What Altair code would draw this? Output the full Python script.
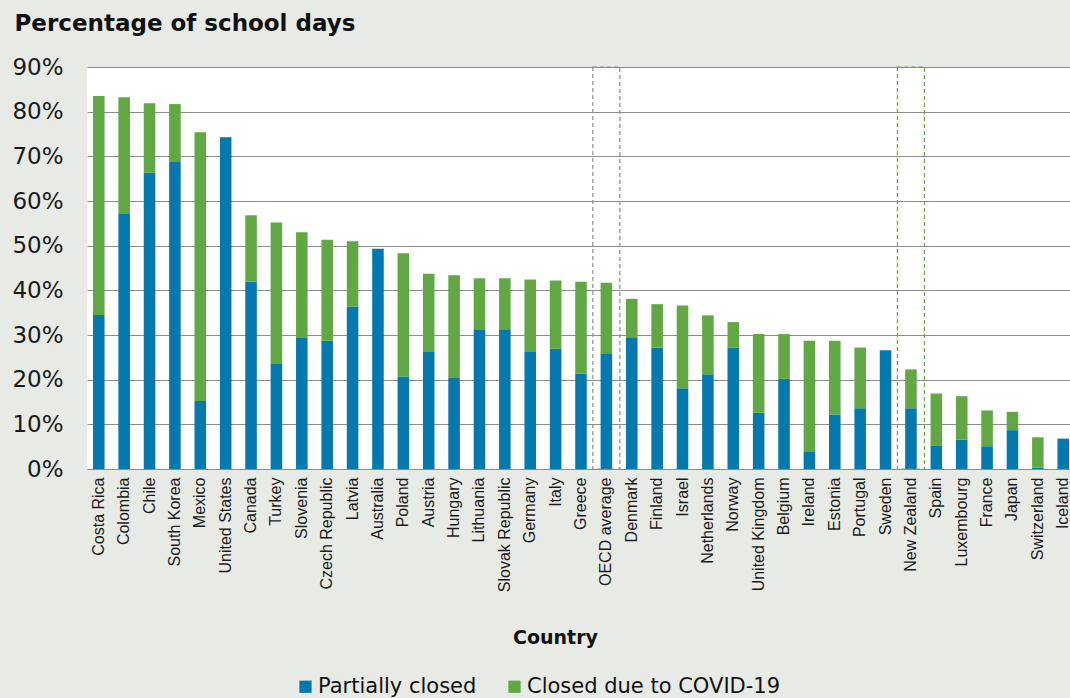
import altair as alt
import pandas as pd

countries = ["Costa Rica", "Colombia", "Chile", "South Korea", "Mexico", "United States",
             "Canada", "Turkey", "Slovenia", "Czech Republic", "Latvia", "Australia",
             "Poland", "Austria", "Hungary", "Lithuania", "Slovak Republic", "Germany",
             "Italy", "Greece", "OECD average", "Denmark", "Finland", "Israel",
             "Netherlands", "Norway", "United Kingdom", "Belgium", "Ireland", "Estonia",
             "Portugal", "Sweden", "New Zealand", "Spain", "Luxembourg", "France",
             "Japan", "Switzerland", "Iceland"]
partial = [34.5, 57.1, 66.3, 68.9, 15.2, 74.3, 42.0, 23.7, 29.5, 28.7, 36.4, 49.3,
           20.7, 26.2, 20.4, 31.3, 31.3, 26.2, 26.9, 21.3, 25.9, 29.5, 27.2, 18.1,
           21.2, 27.2, 12.6, 20.2, 3.8, 12.2, 13.6, 26.6, 13.6, 5.3, 6.6, 5.1,
           8.7, 0.3, 6.8]
total = [83.5, 83.2, 81.9, 81.7, 75.4, 74.3, 56.8, 55.2, 53.0, 51.3, 51.0, 49.3,
         48.3, 43.7, 43.4, 42.7, 42.7, 42.4, 42.2, 41.9, 41.7, 38.1, 36.9, 36.6,
         34.4, 32.9, 30.2, 30.2, 28.7, 28.7, 27.2, 26.6, 22.3, 16.9, 16.3, 13.1,
         12.8, 7.1, 6.8]
series = ["Partially closed", "Closed due to COVID-19"]
colors = ["#0579ad", "#61a845"]
highlight = ["OECD average", "New Zealand"]
highlight_colors = ["#8a8a8a", "#61a845"]
highlight_bottom = [537, 569]

rows = []
for c, p, t in zip(countries, partial, total):
    rows.append({"country": c, "series": series[0], "value": p / 100, "ord": 0})
    rows.append({"country": c, "series": series[1], "value": round(t - p, 2) / 100, "ord": 1})
df = pd.DataFrame(rows)

FONT = "DejaVu Sans"
XFONT = "Liberation Sans"

x_scale = alt.Scale(range=[0, 988], paddingInner=0.544, paddingOuter=0.236)

x_enc = alt.X("country:N", sort=countries, scale=x_scale,
              axis=alt.Axis(title="Country", labelAngle=-90, labelFontSize=16,
                            labelColor="#1a1a1a", labelFont=XFONT, ticks=False,
                            labelPadding=8, domainColor="#8c8c8c", domainWidth=1.2,
                            titleFont=FONT, titleFontSize=19, titleFontWeight="bold",
                            titleColor="#111111", titleX=468, titleY=168,
                            titleBaseline="middle", titleAlign="center"))

bars = alt.Chart(df).mark_bar().encode(
    x=x_enc,
    y=alt.Y("value:Q", stack="zero",
            scale=alt.Scale(domain=[0, 0.9], nice=False),
            axis=alt.Axis(title="Percentage of school days", format=".0%",
                          values=[i / 10 for i in range(10)], tickCount=10,
                          labelFontSize=23, labelFont=FONT, labelColor="#1a1a1a",
                          ticks=False, domain=False, labelPadding=24,
                          gridColor="#8c8c8c", gridWidth=1.2,
                          titleFont=FONT, titleFontSize=23, titleFontWeight="bold",
                          titleColor="#111111", titleAngle=0, titleX=-73, titleY=-44,
                          titleAlign="left", titleBaseline="middle")),
    color=alt.Color("series:N", scale=alt.Scale(domain=series, range=colors),
                    legend=alt.Legend(title=None, orient="none", direction="horizontal",
                                      legendX=208, legendY=609, symbolType="square",
                                      symbolSize=150, symbolStrokeWidth=0,
                                      labelFontSize=21, labelFont=FONT, labelLimit=0,
                                      labelColor="#111111", columnPadding=27,
                                      symbolOpacity=1, labelOffset=2)),
    order=alt.Order("ord:Q"),
)

hl = pd.DataFrame({"country": highlight, "color": highlight_colors,
                   "top": [0.9, 0.9], "bottom": highlight_bottom})

boxes = []
for c, col, b in zip(highlight, highlight_colors, highlight_bottom):
    d = hl[hl["country"] == c]
    boxes.append(alt.Chart(d).mark_bar(width=27, fill="transparent", stroke=col,
                                       strokeDash=[4, 3], strokeWidth=1.2).encode(
        x=alt.X("country:N", sort=countries, scale=x_scale),
        y=alt.Y("top:Q"),
        y2=alt.value(b),
    ))

chart = alt.layer(bars, *boxes).properties(
    width=983, height=402,
    autosize=alt.AutoSizeParams(type="none"),
    padding={"left": 87, "top": 67, "right": 0, "bottom": 229},
    background="#e7eae5",
).configure_view(fill="white", stroke=None)

chart.save("out.html", embed_options={"renderer": "svg", "actions": False})
